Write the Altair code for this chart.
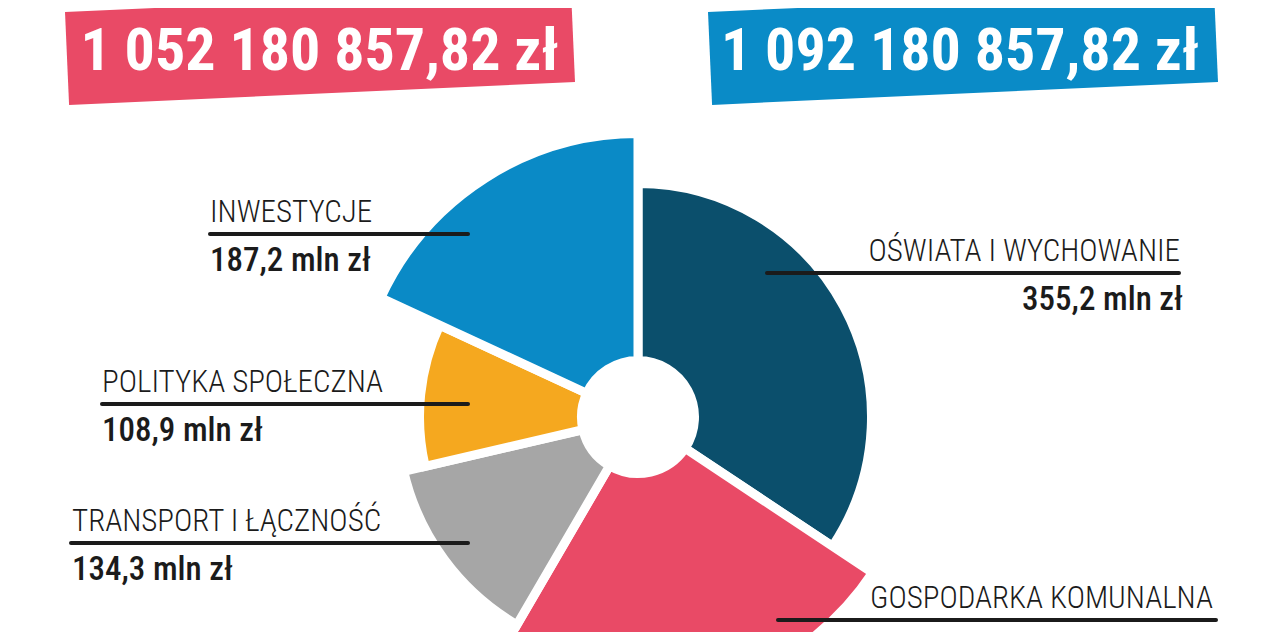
import math
import altair as alt
import pandas as pd

# ---- data ----
categories = ["OŚWIATA I WYCHOWANIE", "GOSPODARKA KOMUNALNA", "TRANSPORT I ŁĄCZNOŚĆ",
              "POLITYKA SPOŁECZNA", "INWESTYCJE"]
values = [355.2, 248.9, 134.3, 108.9, 187.2]
value_labels = ["355,2 mln zł", "248,9 mln zł", "134,3 mln zł", "108,9 mln zł", "187,2 mln zł"]
totals = ["1 052 180 857,82 zł", "1 092 180 857,82 zł"]

# ---- style ----
slice_colors = ["#0b4f6c", "#e94a66", "#a6a6a6", "#f5a81f", "#0a8ac6"]
banner_colors = ["#e94a66", "#0a8bc7"]
outer_radius = {355.2: 233.5, 248.9: 281.5, 134.3: 240.5, 108.9: 218.5, 187.2: 283.5}
FONT = "Roboto Condensed, Roboto, DejaVu Sans Condensed, sans-serif"
INK = "#1b1b1b"
CX, CY = 630, 409

df = pd.DataFrame({"cat": categories, "value": values, "order": list(range(len(values)))})
dom = sorted(values)
rng = [outer_radius[v] for v in dom]

pie = alt.Chart(df).mark_arc(innerRadius=56.5, stroke="white", strokeWidth=9).encode(
    theta=alt.Theta("value:Q", stack=True),
    radius=alt.Radius("value:Q", scale=alt.Scale(type="linear", domain=dom, range=rng, zero=False)),
    color=alt.Color("cat:N", scale=alt.Scale(domain=categories, range=slice_colors), legend=None),
    order=alt.Order("order:Q"),
    x=alt.value(CX),
    y=alt.value(CY),
)

layers = [pie]

# ---- banners ----
banner_path = "M -1 -0.137 L 0.984 -0.227 L 1 0.137 L -0.984 0.227 Z"
for i, (bx, tx) in enumerate([(312, 311.5), (955, 952)]):
    bd = pd.DataFrame({"t": [totals[i]]})
    layers.append(
        alt.Chart(bd).mark_point(shape=banner_path, size=260100, filled=True, opacity=1,
                                 color=banner_colors[i], strokeWidth=0)
        .encode(x=alt.value(bx), y=alt.value(39))
    )
    layers.append(
        alt.Chart(bd).mark_text(font=FONT, fontWeight="bold", fontSize=60, color="white",
                                align="center", baseline="alphabetic")
        .encode(text="t:N", x=alt.value(tx), y=alt.value(62))
    )


# ---- labels ----
def label(i, tx, align, line_y, x1, x2, vx=None):
    d = pd.DataFrame({"name": [categories[i]], "amount": [value_labels[i]]})
    base = alt.Chart(d)
    rule = base.mark_rule(strokeWidth=4, color=INK, strokeCap="round").encode(
        x=alt.value(x1), x2=alt.value(x2), y=alt.value(line_y))
    t1 = base.mark_text(font=FONT, fontSize=31, fontWeight=300, color=INK, align=align,
                        baseline="alphabetic").encode(
        text="name:N", x=alt.value(tx), y=alt.value(line_y - 12))
    t2 = base.mark_text(font=FONT, fontSize=33, fontWeight=500, color=INK, align=align,
                        baseline="alphabetic").encode(
        text="amount:N", x=alt.value(vx if vx is not None else tx), y=alt.value(line_y + 37))
    return [rule, t1, t2]


layers += label(4, 202, "left", 226, 202, 460)
layers += label(3, 94, "left", 396, 94, 460)
layers += label(2, 64, "left", 535, 63, 460)
layers += label(0, 1172, "right", 265, 759, 1171, 1175)
layers += label(1, 1205, "right", 612, 770, 1208, 1210)

chart = alt.layer(*layers).properties(
    width=1264, height=624, padding=0, autosize=alt.AutoSizeParams(type="none"),
    background="white",
).configure_view(stroke=None)

chart.save("out.html", embed_options={"renderer": "svg", "actions": False})
